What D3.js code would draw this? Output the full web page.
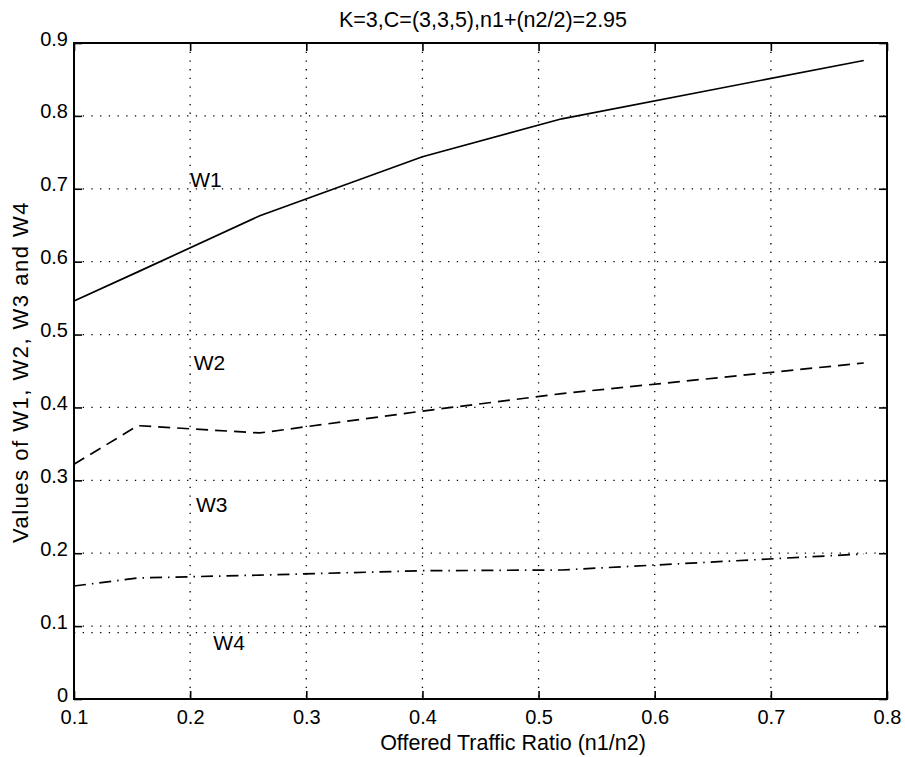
<!DOCTYPE html>
<html>
<head>
<meta charset="utf-8">
<script src="https://cdn.jsdelivr.net/npm/d3@7"></script>
<style>
  body { margin: 0; background: #fff; }
  svg { display: block; font-family: "Liberation Sans", Arial, sans-serif; }
</style>
</head>
<body>
<svg id="chart" width="905" height="757"></svg>
<script>
// values
const ratio = [0.1, 0.155, 0.26, 0.4, 0.52, 0.78];
const w1 = [0.546, 0.586, 0.663, 0.744, 0.796, 0.876];
const w2 = [0.322, 0.375, 0.365, 0.395, 0.419, 0.461];
const w3 = [0.155, 0.166, 0.170, 0.176, 0.177, 0.199];
const w4 = [0.091, 0.091, 0.091, 0.091, 0.091, 0.091];
const seriesNames = ["W1", "W2", "W3", "W4"];
const labelX = [0.2, 0.203, 0.205, 0.22];
const labelY = [0.703, 0.451, 0.256, 0.067];
const xTicks = [0.1, 0.2, 0.3, 0.4, 0.5, 0.6, 0.7, 0.8];
const yTicks = [0, 0.1, 0.2, 0.3, 0.4, 0.5, 0.6, 0.7, 0.8, 0.9];

const margin = {left: 74, right: 18, top: 43, bottom: 58};
const W = 905, H = 757;

const svg = d3.select("#chart");

const x = d3.scaleLinear().domain([0.1, 0.8]).range([margin.left, W - margin.right]);
const y = d3.scaleLinear().domain([0, 0.9]).range([H - margin.bottom, margin.top]);

// dotted grid
const grid = svg.append("g")
  .attr("stroke", "#000")
  .attr("stroke-width", 1.3)
  .attr("stroke-dasharray", "1.3,7.4");

grid.selectAll("line.v")
  .data(xTicks.slice(1, -1))
  .join("line")
  .attr("class", "v")
  .attr("x1", d => x(d)).attr("x2", d => x(d))
  .attr("y1", y(0.9)).attr("y2", y(0));

grid.selectAll("line.h")
  .data(yTicks.slice(1, -1))
  .join("line")
  .attr("class", "h")
  .attr("x1", x(0.1)).attr("x2", x(0.8))
  .attr("y1", d => y(d)).attr("y2", d => y(d));

// axes, ticks pointing inward
const fmt = d3.format("~g");

const xAxis = svg.append("g")
  .attr("transform", `translate(0,${y(0)})`)
  .call(d3.axisBottom(x).tickValues(xTicks).tickFormat(fmt).tickSize(-8).tickPadding(11));

const yAxis = svg.append("g")
  .attr("transform", `translate(${x(0.1)},0)`)
  .call(d3.axisLeft(y).tickValues(yTicks).tickFormat(fmt).tickSize(-8).tickPadding(6));

svg.append("g")
  .attr("transform", `translate(0,${y(0.9)})`)
  .call(d3.axisTop(x).tickValues(xTicks).tickFormat("").tickSize(-8));

svg.append("g")
  .attr("transform", `translate(${x(0.8)},0)`)
  .call(d3.axisRight(y).tickValues(yTicks).tickFormat("").tickSize(-8));

svg.selectAll(".domain").remove();
svg.selectAll(".tick line").attr("stroke", "#000").attr("stroke-width", 1.6);
svg.selectAll(".tick text")
  .attr("fill", "#000")
  .style("font-size", "20px")
  .style("font-family", "'Liberation Sans', Arial, sans-serif");
yAxis.selectAll(".tick text").attr("dy", "0.1em");

// box
svg.append("rect")
  .attr("x", x(0.1)).attr("y", y(0.9))
  .attr("width", x(0.8) - x(0.1))
  .attr("height", y(0) - y(0.9))
  .attr("fill", "none")
  .attr("stroke", "#000")
  .attr("stroke-width", 2);

// series
const line = d3.line()
  .x(d => x(d[0]))
  .y(d => y(d[1]));

const allSeries = [w1, w2, w3, w4];
const dashes = [null, "12,7", "12,6,1.5,6", "1.3,7.4"];
const widths = [1.7, 1.7, 1.7, 1.3];

allSeries.forEach((vals, i) => {
  svg.append("path")
    .datum(ratio.map((r, j) => [r, vals[j]]))
    .attr("d", line)
    .attr("fill", "none")
    .attr("stroke", "#000")
    .attr("stroke-width", widths[i])
    .attr("stroke-dasharray", dashes[i]);
});

// series labels
svg.append("g")
  .selectAll("text")
  .data(seriesNames)
  .join("text")
  .attr("x", (d, i) => x(labelX[i]))
  .attr("y", (d, i) => y(labelY[i]))
  .style("font-size", "21px")
  .text(d => d);

// titles
svg.append("text")
  .attr("x", 483)
  .attr("y", 27)
  .attr("text-anchor", "middle")
  .style("font-size", "21.5px")
  .text("K=3,C=(3,3,5),n1+(n2/2)=2.95");

svg.append("text")
  .attr("x", 513)
  .attr("y", 750)
  .attr("text-anchor", "middle")
  .style("font-size", "21.5px")
  .text("Offered Traffic Ratio (n1/n2)");

svg.append("text")
  .attr("transform", "translate(28,372) rotate(-90)")
  .attr("text-anchor", "middle")
  .style("font-size", "22px")
  .style("letter-spacing", "1.5px")
  .text("Values of W1, W2, W3 and W4");
</script>
</body>
</html>
